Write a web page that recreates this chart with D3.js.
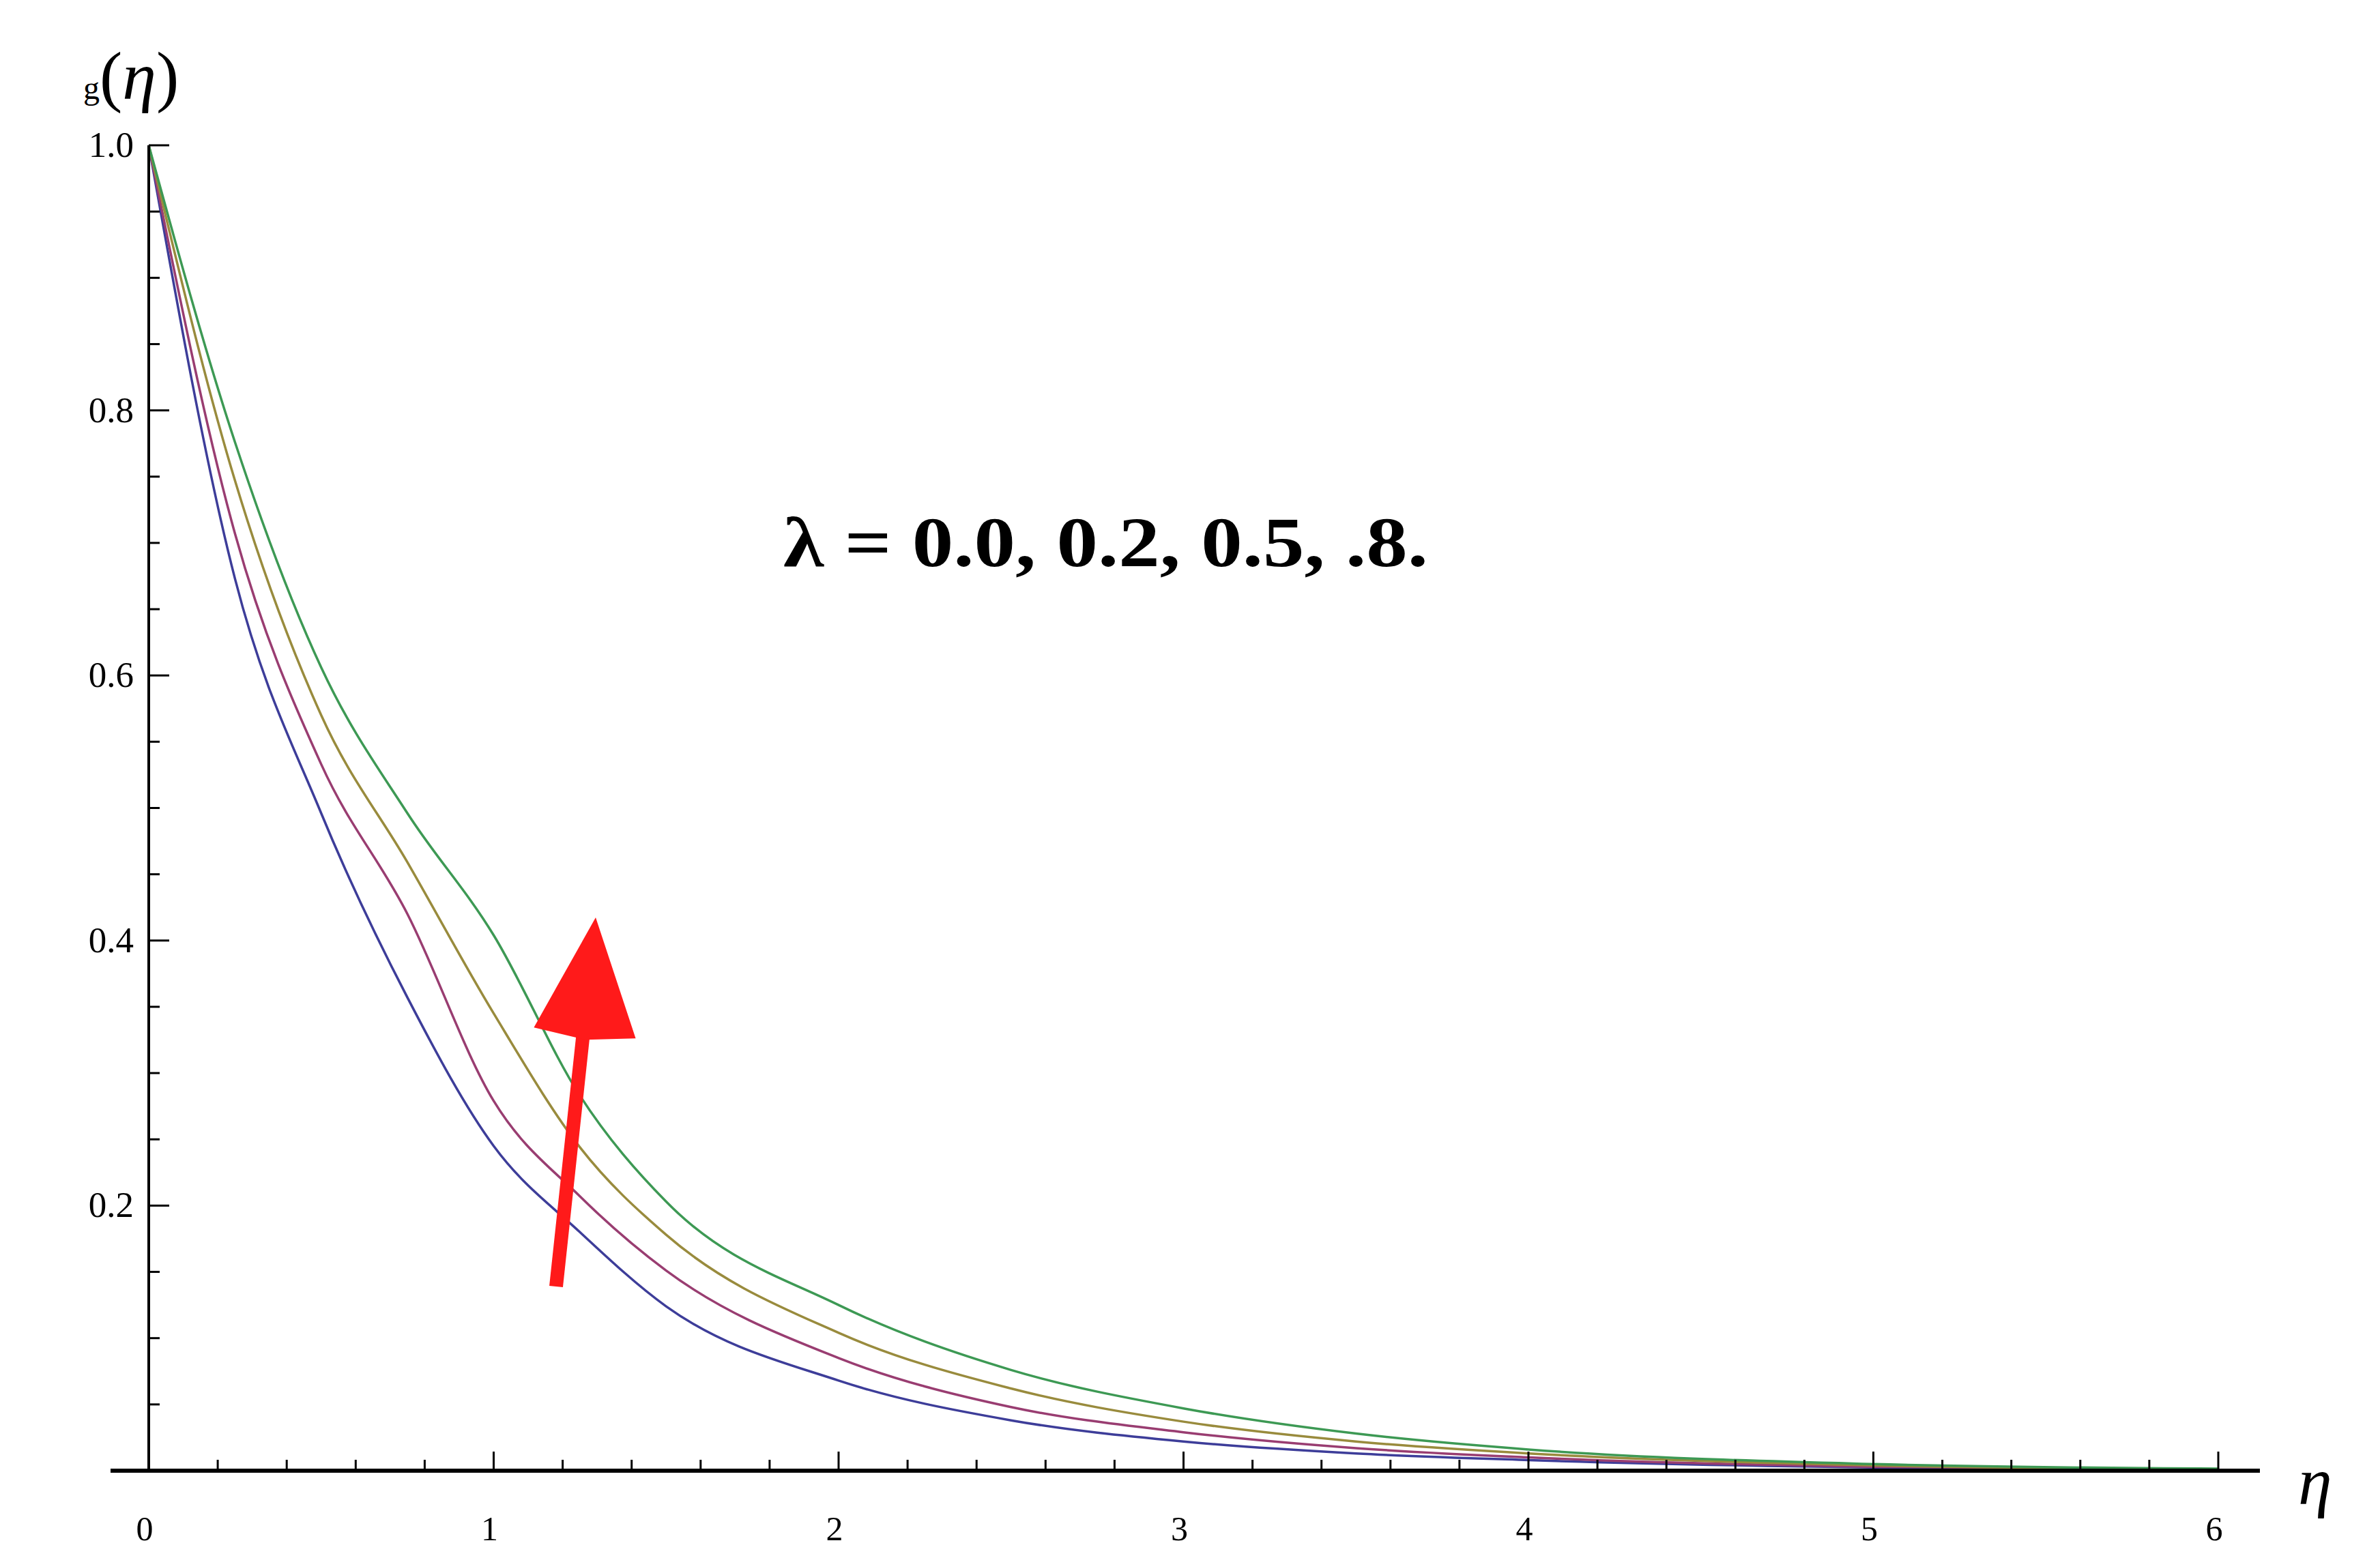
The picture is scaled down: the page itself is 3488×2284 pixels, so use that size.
<!DOCTYPE html>
<html>
<head>
  <meta charset="utf-8">
  <title>g(eta)</title>
  <style>
    body { margin: 0; background: #fff; }
    text { font-family: "Liberation Serif", "DejaVu Serif", serif; }
  </style>
</head>
<body>
  <div id="chart"></div>

  <script src="https://cdn.jsdelivr.net/npm/d3@7/dist/d3.min.js"></script>
  <script type="text/javascript">

  var eta = [0, 0.25, 0.5, 0.75, 1, 1.25, 1.5, 2, 2.5, 3, 3.5, 4, 5, 6];

  // lambda = 0.0, 0.2, 0.5, 0.8
  var g00 = [1, 0.673, 0.496, 0.357, 0.245, 0.180, 0.124, 0.068, 0.038, 0.022, 0.013, 0.008, 0.0025, 0.0008];
  var g02 = [1, 0.707, 0.533, 0.420, 0.279, 0.207, 0.151, 0.085, 0.048, 0.029, 0.017, 0.010, 0.003, 0.001];
  var g05 = [1, 0.747, 0.570, 0.459, 0.345, 0.244, 0.178, 0.104, 0.062, 0.037, 0.022, 0.013, 0.004, 0.0012];
  var g08 = [1, 0.776, 0.606, 0.496, 0.404, 0.283, 0.203, 0.125, 0.076, 0.047, 0.028, 0.016, 0.005, 0.0015];

  var series = [g00, g02, g05, g08];
  var colors = ['#3d3d99', '#993d71', '#998b3d', '#3d9954'];

  var xTicks = [0, 1, 2, 3, 4, 5, 6];
  var yTicks = [0.2, 0.4, 0.6, 0.8, 1.0];

  var width = 3488, height = 2284;

  var x = d3.scaleLinear().domain([0, 6]).range([218, 3251]);
  var y = d3.scaleLinear().domain([0, 1]).range([2156, 213]);

  var svg = d3.select('#chart')
              .append('svg')
              .attr('width', width)
              .attr('height', height);

  // curves
  var line = d3.line()
               .x(function(d, i){ return x(eta[i]); })
               .y(function(d){ return y(d); })
               .curve(d3.curveMonotoneX);

  svg.selectAll('path.curve')
     .data(series)
     .enter().append('path')
     .attr('class', 'curve')
     .attr('d', line)
     .style('fill', 'none')
     .style('stroke', function(d, i){ return colors[i]; })
     .style('stroke-width', 3.5);

  // x axis
  svg.append('line')
     .attr('x1', 162).attr('x2', 3312)
     .attr('y1', y(0)).attr('y2', y(0))
     .style('stroke', '#000').style('stroke-width', 6);

  var xMinor = d3.range(0, 6.01, 0.2);
  svg.selectAll('line.xt')
     .data(xMinor)
     .enter().append('line')
     .attr('x1', function(d){ return x(d); })
     .attr('x2', function(d){ return x(d); })
     .attr('y1', y(0))
     .attr('y2', function(d){
       return y(0) - (Math.abs(d - Math.round(d)) < 1e-6 ? 28 : 16);
     })
     .style('stroke', '#000').style('stroke-width', 3);

  svg.selectAll('text.xl')
     .data(xTicks)
     .enter().append('text')
     .attr('x', function(d){ return x(d) - 6; })
     .attr('y', 2258)
     .attr('text-anchor', 'middle')
     .style('font-size', '50px')
     .text(function(d){ return d; });

  // y axis
  svg.append('line')
     .attr('x1', x(0)).attr('x2', x(0))
     .attr('y1', y(1)).attr('y2', y(0))
     .style('stroke', '#000').style('stroke-width', 4);

  var yMinor = d3.range(0.05, 1.001, 0.05);
  svg.selectAll('line.yt')
     .data(yMinor)
     .enter().append('line')
     .attr('y1', function(d){ return y(d); })
     .attr('y2', function(d){ return y(d); })
     .attr('x1', x(0))
     .attr('x2', function(d){
       var major = Math.abs(d * 5 - Math.round(d * 5)) < 1e-6;
       return x(0) + (major ? 30 : 16);
     })
     .style('stroke', '#000').style('stroke-width', 3);

  svg.selectAll('text.yl')
     .data(yTicks)
     .enter().append('text')
     .attr('x', 196)
     .attr('y', function(d){ return y(d) + 17; })
     .attr('text-anchor', 'end')
     .style('font-size', '53px')
     .text(function(d){ return d.toFixed(1); });

  // axis labels
  var gl = svg.append('text').attr('x', 122).attr('y', 145);
  gl.append('tspan').style('font-size', '48px').text('g');
  gl.append('tspan').style('font-size', '100px').text('(');
  gl.append('tspan').style('font-size', '100px').style('font-style', 'italic').text('η');
  gl.append('tspan').style('font-size', '100px').text(')');

  svg.append('text')
     .attr('x', 3368).attr('y', 2205)
     .style('font-size', '100px')
     .style('font-style', 'italic')
     .text('η');

  // annotation
  svg.append('text')
     .attr('x', 1148).attr('y', 830)
     .attr('textLength', 945)
     .attr('lengthAdjust', 'spacingAndGlyphs')
     .style('font-size', '104px')
     .style('font-weight', 'bold')
     .text('λ = 0.0, 0.2, 0.5, .8.');

  // red arrow
  var tail = [815, 1886], tip = [873, 1345];
  var ang = Math.atan2(tip[1] - tail[1], tip[0] - tail[0]);
  var headLen = 150, headW = 75;
  var bx = tip[0] - headLen * Math.cos(ang), by = tip[1] - headLen * Math.sin(ang);
  var px = -Math.sin(ang), py = Math.cos(ang);

  svg.append('line')
     .attr('x1', tail[0]).attr('y1', tail[1])
     .attr('x2', bx + 10 * Math.cos(ang)).attr('y2', by + 10 * Math.sin(ang))
     .style('stroke', '#ff1a1a').style('stroke-width', 20);

  svg.append('path')
     .attr('d', 'M' + tip[0] + ',' + tip[1] +
                'L' + (bx + px * headW) + ',' + (by + py * headW + 20) +
                'L' + (bx + 10 * Math.cos(ang)) + ',' + (by + 30) +
                'L' + (bx - px * headW) + ',' + (by - py * headW + 20) + 'Z')
     .style('fill', '#ff1a1a');

  </script>

</body>
</html>
